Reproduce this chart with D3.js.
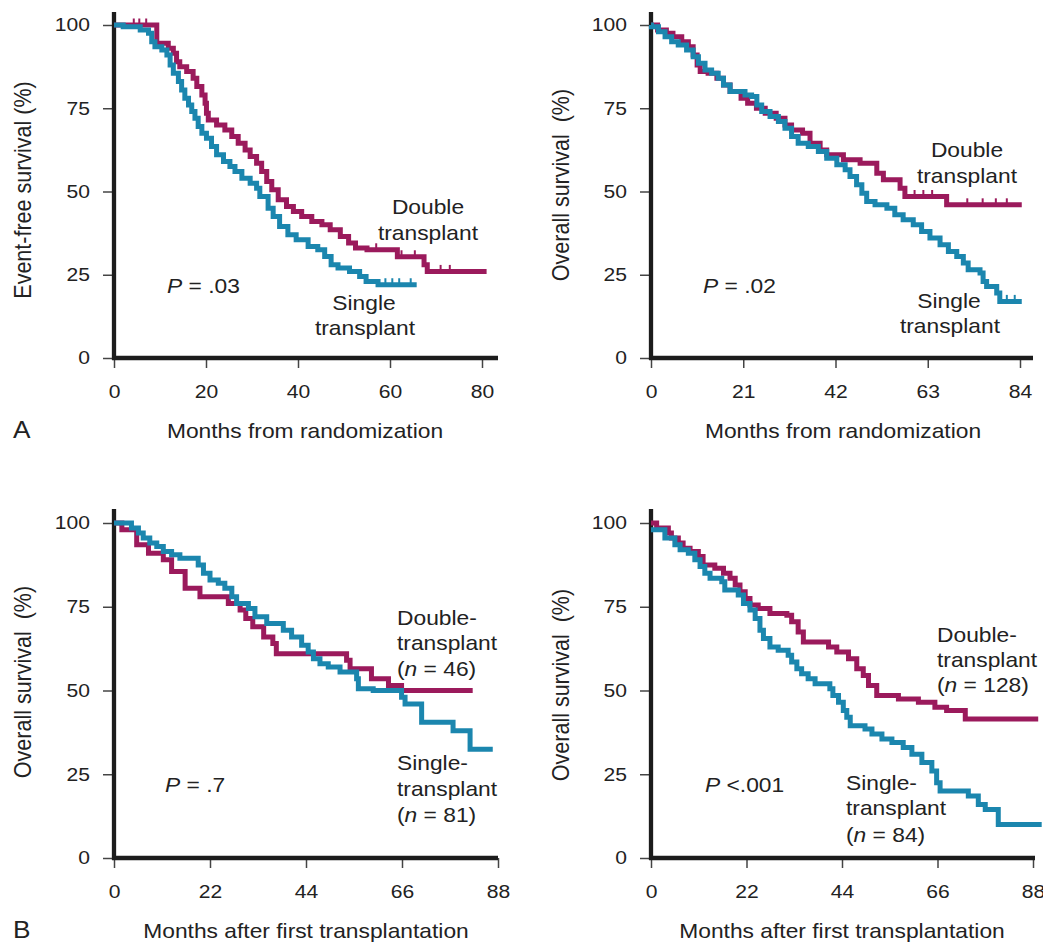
<!DOCTYPE html>
<meta charset="utf-8">
<style>
body { margin: 0; background: #fff; }
svg { font-family: "Liberation Sans", Arial, sans-serif; fill: #222; }
text { white-space: pre; }
.tick line { stroke: #444; stroke-width: 1.5; }
.tick text { fill: #222; }
</style>
<body>
<script src="https://cdn.jsdelivr.net/npm/d3@7"></script>
<script>
// step points: [month, survival %] - the curve drops to the value at that month
var yTicks = [0, 25, 50, 75, 100];
var aTicks = [0, 20, 40, 60, 80];
var trTicks = [0, 21, 42, 63, 84];
var bTicks = [0, 22, 44, 66, 88];

var aDouble = [[0,100],[9.3,94.5],[11.8,93],[12.9,91.5],[13.6,89],[14.3,87.5],[15.8,86],[17.2,84],[18,81.5],[19.1,79],[19.8,76.5],[20.1,73.5],[20.5,71.5],[22.3,70],[24.1,68.5],[25.6,66.5],[27,64.5],[28.5,62.5],[29.6,60.5],[31,58.5],[32.1,56],[33.2,53],[34.3,50.5],[35.7,47.5],[37.5,45.5],[39,44],[40.8,42.5],[43,41],[45.2,40],[47,38.5],[49.2,36.5],[51,34.5],[52.5,33],[55,32.5],[61.6,30.4],[67.4,28],[68.1,26],[81,26]];
var aSingle = [[0,100],[2,99.5],[5.7,98.5],[7.5,97.5],[8.2,95],[8.9,93.5],[10.4,92.5],[11.5,91],[12.2,88],[12.9,85.5],[14,83],[14.7,80.5],[15.4,78],[16.2,76],[16.9,74],[17.6,72],[18.3,69.5],[19.1,67.5],[20.1,66],[21.2,63.5],[22.3,61],[23.8,59],[25.2,57.5],[26.3,56],[27.8,54],[29.6,52.5],[31,51],[31.7,48.5],[33.5,45],[34.6,42.5],[36,39.5],[37.8,37],[39.6,35.5],[42.2,33.5],[44.3,32.5],[45.8,30.5],[47.2,28],[48.7,27],[51.2,26],[53.4,24.5],[54.8,23],[57.4,22],[65.8,22]];
var aDoubleCens = [4.3, 5.5, 7, 57, 62.5, 65.4, 71, 73];
var aSingleCens = [59, 60.5, 62, 64.5];

var trDouble = [[0,100],[1.5,98.5],[3.5,97.5],[5,96.5],[7,95],[8.5,93.5],[9.6,91],[10.5,88],[11.2,86],[13,85.5],[15,84],[16.5,82],[18,80],[20.5,78],[22,76.5],[24,75],[26,73.5],[28.5,72],[30.5,70],[32,68.5],[34.5,67.5],[36.2,64.5],[38.5,62.5],[40,61],[43.8,59.5],[47.6,58.5],[51.4,55.5],[52.9,53.5],[56.7,51],[57.8,48.5],[67.3,46],[84.4,46]];
var trSingle = [[0,100],[0.1,99.5],[1.7,98],[3.2,96.5],[4.7,95],[6.2,94],[8.1,92.5],[9.6,90.5],[10.8,88.5],[12.3,86.5],[13.8,85.5],[15.3,84],[16.5,82],[18,80],[21.4,79],[22.9,78.5],[24.1,76],[25.2,74],[27.1,72.5],[29,71],[30.5,69],[32,66.5],[33.5,64.5],[35.8,63.5],[38.1,62],[40,60],[42.3,58],[44.2,56.5],[45.3,54.5],[46.8,52],[48,49.5],[49.1,47],[51,46],[53.7,45],[55.5,43],[57.4,41.5],[59.7,40],[61.6,38],[63.5,36],[65.8,34],[67.7,32],[69.6,30.5],[71.1,28.5],[72.2,26.5],[74.9,25.5],[75.6,23],[76.4,21.5],[78.7,19.5],[79.4,17],[84.4,17]];
var trDoubleCens = [60, 62, 64, 72, 75.5, 78.5, 81];
var trSingleCens = [81, 82.8];

var blDouble = [[0,100],[1.8,98],[5.2,93.5],[7.9,91],[11.3,89],[13.2,85.5],[16.3,80.5],[19.7,78],[26.2,76],[28.9,74],[30.2,71.5],[31.8,69],[34.3,66],[36.4,64],[37.2,61],[53.3,59],[54.1,56.5],[59,53.5],[62.9,51.5],[65.9,50],[82.2,50]];
var blSingle = [[0,100],[4,98.5],[5.6,97],[6.7,95.5],[8.2,94],[9.8,93],[11.3,91.5],[13.2,90.5],[15.1,89.5],[19.3,87.5],[20.5,85],[22,83],[23.9,82],[25.4,80.5],[27,78],[28.1,76],[30.8,74.5],[32.3,72],[35,70],[38.8,68],[40.7,66],[43,63.5],[44.5,61.5],[45.7,59.5],[47.2,58],[49.1,57],[51.8,55.5],[55.6,53.5],[56,50.5],[59.4,50],[65.9,48],[66.7,46],[70.5,40.5],[77.7,38],[81.6,32.5],[86.8,32.5]];

var brDouble = [[0,100],[1.3,98.5],[4,97],[4.7,95.5],[6.3,94],[7.4,92.5],[9,91.5],[10.9,90],[12,87.5],[14.7,86.5],[16.7,85],[18.2,83.5],[19.4,81.5],[20.5,79.5],[21.7,77.5],[22.8,75.5],[24.7,74.5],[27.4,73],[31.3,72.5],[32.4,70.5],[33.9,67.5],[35.1,64.5],[40.9,63],[42.8,61.5],[45.5,59.5],[47.4,56.5],[48.9,54.5],[50.1,51.5],[52,48.5],[57,47.5],[61.6,46.5],[65.4,45],[68.1,44],[72.4,41.5],[89.2,41.5]];
var brSingle = [[0,98],[3.2,95.5],[5.5,93.5],[6.7,92],[8.6,91],[10.1,89],[11.3,87],[12.4,85],[13.6,83.5],[16.3,82.5],[17,80],[20.1,78.5],[21.3,76],[22.8,74],[24,71.5],[25.1,68],[25.9,65.5],[27.4,63],[29.3,62],[31.6,60.5],[32.4,58.5],[33.6,56.5],[34.7,55],[36.2,53.5],[37.8,52],[41.2,50.5],[41.9,48.5],[43.2,46.5],[44.3,44],[45.1,42],[45.9,39.5],[49.3,38.5],[50.9,37],[53.2,35.5],[55.5,34.5],[58.1,33],[60.1,31],[62.4,28.5],[64.7,26],[65.8,22.5],[66.6,20],[73.1,18.5],[75.4,16],[77,14.5],[80,10],[90,10]];

var colDouble = "#9b1a5c", colSingle = "#1b86ae";
var sx = 1.14; // the reference type is set a bit wide

var panels = [
  { left: 114, right: 482, axisEnd: 498, top: 25, bottom: 358, axisTop: 12, xmax: 80, ticks: aTicks,
    double: aDouble, single: aSingle, dCens: aDoubleCens, sCens: aSingleCens,
    ylabel: "Event-free survival (%)", ylx: 31, yly: 190,
    xlabel: "Months from randomization", xlx: 305, xly: 438,
    letter: "A",
    notes: [
      [428, 214, "middle", [["Double"]]], [428, 240, "middle", [["transplant"]]],
      [364, 310, "middle", [["Single"]]], [365, 335, "middle", [["transplant"]]],
      [167, 293, "start", [["P", 1], [" = .03"]]]
    ] },
  { left: 651, right: 1020, axisEnd: 1033, top: 25, bottom: 358, axisTop: 12, xmax: 84, ticks: trTicks,
    double: trDouble, single: trSingle, dCens: trDoubleCens, sCens: trSingleCens,
    ylabel: "Overall survival\u00a0 (%)", ylx: 569, yly: 185,
    xlabel: "Months from randomization", xlx: 843, xly: 438,
    notes: [
      [967, 157, "middle", [["Double"]]], [967, 183, "middle", [["transplant"]]],
      [949, 308, "middle", [["Single"]]], [950, 333, "middle", [["transplant"]]],
      [703, 293, "start", [["P", 1], [" = .02"]]]
    ] },
  { left: 114, right: 498, axisEnd: 498, top: 523, bottom: 858, axisTop: 509, xmax: 88, ticks: bTicks,
    double: blDouble, single: blSingle, dCens: [], sCens: [],
    ylabel: "Overall survival\u00a0 (%)", ylx: 31, yly: 682,
    xlabel: "Months after first transplantation", xlx: 306, xly: 938,
    letter: "B",
    notes: [
      [397, 625, "start", [["Double-"]]], [397, 650, "start", [["transplant"]]],
      [397, 676, "start", [["("], ["n", 1], [" = 46)"]]],
      [397, 770, "start", [["Single-"]]], [397, 796, "start", [["transplant"]]],
      [397, 822, "start", [["("], ["n", 1], [" = 81)"]]],
      [165, 792, "start", [["P", 1], [" = .7"]]]
    ] },
  { left: 651, right: 1033, axisEnd: 1035, top: 523, bottom: 858, axisTop: 509, xmax: 88, ticks: bTicks,
    double: brDouble, single: brSingle, dCens: [], sCens: [],
    ylabel: "Overall survival\u00a0 (%)", ylx: 569, yly: 685,
    xlabel: "Months after first transplantation", xlx: 842, xly: 938,
    notes: [
      [937, 642, "start", [["Double-"]]], [937, 667, "start", [["transplant"]]],
      [937, 692, "start", [["("], ["n", 1], [" = 128)"]]],
      [846, 790, "start", [["Single-"]]], [846, 815, "start", [["transplant"]]],
      [846, 842, "start", [["("], ["n", 1], [" = 84)"]]],
      [705, 792, "start", [["P", 1], [" <.001"]]]
    ] }
];

var svg = d3.select("body").append("svg")
    .attr("width", 1043)
    .attr("height", 945);

function addText(g, x, y, size, anchor, parts, rot) {
  var t = g.append("text")
      .attr("transform", "translate(" + x + "," + y + ") scale(" + sx + ",1)" + (rot ? " rotate(-90)" : ""))
      .attr("font-size", size)
      .attr("text-anchor", anchor);
  parts.forEach(function(p) {
    var ts = t.append("tspan").text(p[0]);
    if (p[1]) ts.attr("font-style", "italic");
  });
  return t;
}

function valueAt(pts, m) {
  var v = pts[0][1];
  pts.forEach(function(p) { if (p[0] <= m) v = p[1]; });
  return v;
}

panels.forEach(function(p) {
  var x = d3.scaleLinear().domain([0, p.xmax]).range([p.left, p.right]);
  var y = d3.scaleLinear().domain([0, 100]).range([p.bottom, p.top]);
  var g = svg.append("g");

  /* axes */
  var ya = g.append("g")
      .attr("transform", "translate(" + p.left + ",0)")
      .call(d3.axisLeft(y).tickValues(yTicks).tickSize(11).tickPadding(13));
  var xa = g.append("g")
      .attr("transform", "translate(0," + p.bottom + ")")
      .call(d3.axisBottom(x).tickValues(p.ticks).tickSize(10).tickPadding(17));
  [ya, xa].forEach(function(a) {
    a.select(".domain").remove();
    a.selectAll("text").attr("font-size", 18.5).attr("font-family", null);
  });
  ya.selectAll("text").attr("x", -24 / sx).attr("transform", "scale(" + sx + ",1)");
  xa.selectAll("text").attr("transform", "scale(" + sx + ",1)");

  g.append("line")
      .attr("x1", p.left).attr("x2", p.left)
      .attr("y1", p.axisTop).attr("y2", p.bottom + 2)
      .attr("stroke", "#1c1c1c").attr("stroke-width", 4.3);
  g.append("line")
      .attr("x1", p.left - 2).attr("x2", p.axisEnd)
      .attr("y1", p.bottom).attr("y2", p.bottom)
      .attr("stroke", "#1c1c1c").attr("stroke-width", 4.3);

  /* curves */
  var line = d3.line()
      .x(function(d) { return x(d[0]); })
      .y(function(d) { return y(d[1]); })
      .curve(d3.curveStepAfter);

  [[p.double, p.dCens, colDouble], [p.single, p.sCens, colSingle]].forEach(function(s) {
    g.append("path")
        .datum(s[0])
        .attr("d", line)
        .attr("fill", "none")
        .attr("stroke", s[2])
        .attr("stroke-width", 5);
    g.selectAll(null)
        .data(s[1])
      .enter().append("line")
        .attr("x1", function(m) { return x(m); })
        .attr("x2", function(m) { return x(m); })
        .attr("y1", function(m) { return y(valueAt(s[0], m)) - 6.5; })
        .attr("y2", function(m) { return y(valueAt(s[0], m)); })
        .attr("stroke", s[2])
        .attr("stroke-width", 2);
  });

  /* labels */
  addText(g, p.ylx, p.yly, 21.5, "middle", [[p.ylabel]], true);
  addText(g, p.xlx, p.xly, 20, "middle", [[p.xlabel]]);
  if (p.letter) addText(g, 13, p.xly, 23, "start", [[p.letter]]);
  p.notes.forEach(function(n) { addText(g, n[0], n[1], 20, n[2], n[3]); });
});
</script>
